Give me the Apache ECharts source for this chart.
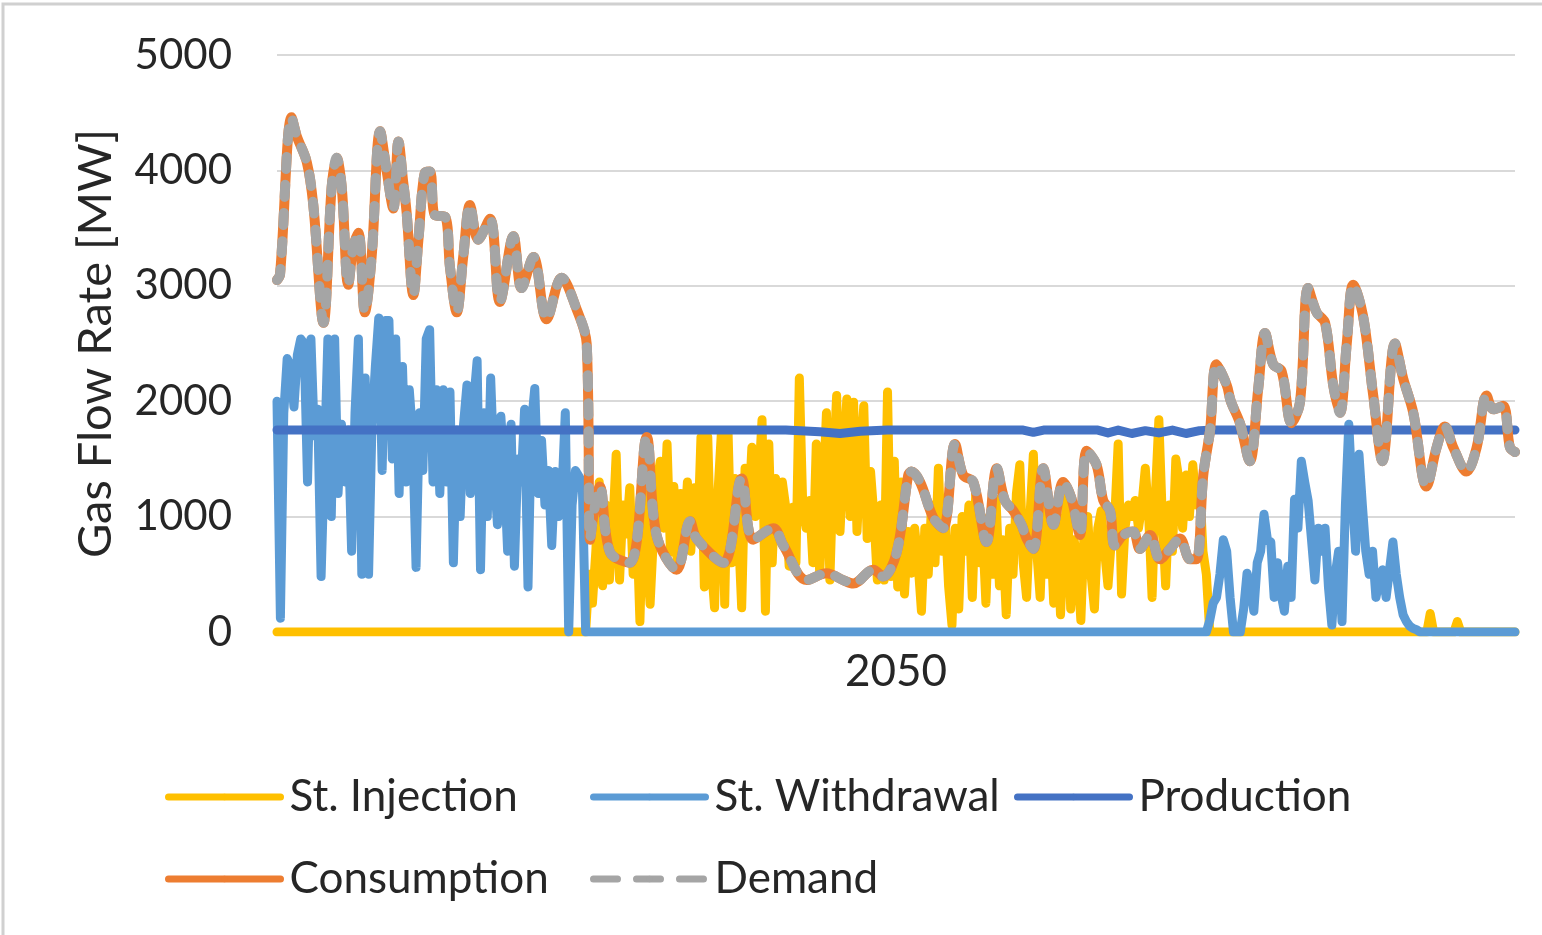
<!DOCTYPE html>
<html>
<head>
<meta charset="utf-8">
<script src="https://cdn.jsdelivr.net/npm/echarts@6/dist/echarts.min.js"></script>
<style>
  html, body { margin: 0; padding: 0; background: #ffffff; }
  #chart { width: 1542px; height: 935px; }
</style>
</head>
<body>
<div id="chart"></div>
<script>
// ---- data: gas balance over the year 2050, MW, indexed by day of year ----
const yearLabel = '2050';
const yAxisTitle = 'Gas Flow Rate [MW]';
const seriesNames = ['St. Injection', 'St. Withdrawal', 'Production', 'Consumption', 'Demand'];

// storage withdrawal, winter (days 0–91)
const withdrawalWinterStart = 0;
const withdrawalWinter = [
  2000, 120, 1900, 2370, 2300, 1950, 2400, 2540, 2500, 1300,
  2540, 1700, 1930, 480, 1500, 2540, 1000, 2540, 1200, 1800,
  1300, 1750, 700, 1900, 2540, 500, 2200, 500, 1800, 2300,
  2720, 1400, 2700, 2700, 1500, 2540, 1200, 2300, 1300, 2100,
  1700, 560, 1900, 1400, 2540, 2620, 1300, 2100, 1200, 2100,
  1300, 2080, 600, 1750, 1000, 1800, 2140, 1200, 2000, 2350,
  540, 1900, 1000, 2200, 1400, 930, 1870, 1400, 700, 1800,
  570, 1500, 1300, 1930, 390, 1800, 2110, 1200, 1660, 1100,
  1400, 750, 1390, 1000, 1200, 1900, 0, 1100, 1400, 1350,
  1300, 0
];
// storage withdrawal, autumn (days 273–337)
const withdrawalAutumnStart = 273;
const withdrawalAutumn = [
  0, 0, 100, 250, 300, 500, 800, 700, 300, 0,
  0, 0, 200, 510, 400, 180, 600, 700, 1020, 800,
  780, 300, 600, 330, 180, 570, 300, 1150, 900, 1480,
  1300, 1140, 800, 450, 900, 700, 900, 390, 60, 500,
  700, 90, 1100, 1800, 1200, 700, 1540, 1100, 700, 500,
  700, 300, 450, 540, 300, 540, 780, 500, 300, 150,
  90, 50, 30, 20, 0
];
const withdrawalEnd = [[365, 0]];

// storage injection, summer (days 91–275)
const injectionStartFlat = [[0, 0]];
const injectionSummerStart = 91;
const injectionSummer = [
  0, 500, 250, 700, 1300, 400, 1100, 450, 900, 1540,
  450, 1100, 850, 1250, 500, 1000, 90, 1200, 700, 240,
  840, 1300, 1480, 900, 1630, 690, 1260, 600, 1200, 800,
  1300, 700, 1250, 800, 1690, 390, 1690, 600, 210, 1200,
  1720, 240, 1720, 600, 1330, 900, 210, 1420, 1000, 1600,
  1000, 1300, 1840, 180, 1630, 600, 1330, 840, 1300, 1080,
  570, 1080, 600, 2200, 1100, 900, 1140, 600, 1630, 500,
  1200, 1900, 450, 1400, 2050, 870, 1500, 2020, 1000, 1990,
  870, 1500, 1960, 810, 1390, 1000, 450, 1100, 450, 2080,
  480, 1480, 390, 1300, 330, 870, 510, 900, 600, 180,
  900, 500, 1100, 600, 1420, 700, 1000, 400, 60, 900,
  200, 1000, 700, 1100, 300, 1200, 600, 900, 250, 1000,
  500, 1150, 400, 800, 150, 900, 500, 1200, 1450, 600,
  300, 1000, 1540, 700, 300, 1100, 500, 900, 250, 1000,
  150, 800, 1240, 200, 800, 600, 100, 900, 1000, 500,
  200, 900, 1050, 700, 400, 800, 1000, 1630, 330, 900,
  1100, 1000, 1140, 900, 1100, 1420, 1000, 300, 1200, 1840,
  1000, 400, 1100, 700, 1500, 1300, 900, 1360, 1000, 1450,
  1100, 1300, 700, 500, 0
];
// small late-autumn injections
const injectionLate = [[339, 0], [340, 160], [341, 0], [347, 0], [348, 90], [349, 0], [365, 0]];

// domestic production [day, MW]
const production = [
  [0, 1750], [150, 1750], [160, 1735], [166, 1720], [172, 1740], [180, 1750],
  [220, 1750], [223, 1730], [226, 1750], [242, 1750], [245, 1725], [248, 1750],
  [252, 1720], [256, 1745], [260, 1725], [264, 1750], [268, 1720], [272, 1745],
  [276, 1750], [365, 1750]
];

// gas demand [day, MW]
const demand = [
  [0, 3050], [0.9, 3100], [4.3, 4460], [5.8, 4300], [8.8, 4070], [10.7, 3700],
  [13.7, 2680], [16.1, 3850], [17.6, 4110], [19.1, 3850], [21.0, 3010], [22.5, 3340],
  [24.0, 3460], [25.9, 2770], [27.9, 3250], [30.4, 4340], [32.3, 4000], [34.3, 3670],
  [35.8, 4250], [37.2, 3900], [38.2, 3640], [40.2, 2920], [41.7, 3400], [43.6, 3980],
  [45.1, 3990], [46.6, 3610], [49.5, 3600], [51.0, 3160], [53.0, 2770], [54.9, 3250],
  [56.9, 3700], [59.3, 3400], [62.8, 3580], [65.7, 2860], [69.7, 3430], [72.1, 2980],
  [75.6, 3250], [79.5, 2710], [83.9, 3070], [88.3, 2800], [91.3, 2500], [92.3, 800],
  [93.5, 1050], [95.2, 1260], [98.2, 690], [104.1, 600], [109.0, 1690], [111.9, 840],
  [117.8, 540], [121.8, 960], [123.7, 810], [131.6, 600], [137.0, 1330], [140.4, 800],
  [146.3, 900], [149.3, 750], [156.2, 450], [162.0, 510], [166.9, 450], [169.9, 420],
  [175.8, 540], [178.7, 480], [182.7, 690], [186.1, 1360], [187.0, 1390], [189.6, 1300],
  [193.5, 990], [196.4, 900], [199.9, 1630], [202.3, 1360], [205.3, 1300], [209.2, 780],
  [212.2, 1420], [214.6, 1140], [217.1, 1050], [219.5, 930], [221.0, 810], [223.0, 720],
  [225.9, 1420], [228.9, 930], [231.8, 1300], [234.3, 1150], [236.7, 840], [238.7, 1570],
  [241.6, 1450], [243.6, 1140], [245.6, 1050], [247.0, 750], [249.5, 840], [252.4, 870],
  [254.4, 720], [257.4, 840], [260.3, 630], [263.3, 720], [266.2, 810], [269.2, 630],
  [271.1, 630], [273.1, 1360], [275.1, 1750], [277.0, 2320], [280.0, 2140], [281.2, 2000],
  [283.9, 1810], [286.8, 1480], [289.3, 2110], [291.3, 2590], [293.7, 2320], [296.2, 2260],
  [299.1, 1810], [301.6, 1990], [304.0, 2980], [306.5, 2770], [309.0, 2680], [311.4, 2140],
  [313.4, 1900], [315.4, 2500], [317.3, 3010], [320.2, 2740], [323.2, 2050], [325.9, 1480],
  [329.6, 2500], [332.0, 2200], [335.0, 1900], [338.9, 1260], [341.9, 1600], [344.3, 1780],
  [346.8, 1600], [350.7, 1390], [353.7, 1600], [356.6, 2050], [358.6, 1930], [361.5, 1960],
  [363.5, 1600], [365, 1560]
];
// consumption is fully served, so it runs on the demand values
const consumption = demand.map(p => p.slice());

// ---- assemble [day, MW] pairs ----
const daily = (start, values) => values.map((v, i) => [start + i, v]);
const withdrawalData = daily(withdrawalWinterStart, withdrawalWinter)
  .concat(daily(withdrawalAutumnStart, withdrawalAutumn), withdrawalEnd);
const injectionData = injectionStartFlat
  .concat(daily(injectionSummerStart, injectionSummer), injectionLate);

const FONT = 'Lato, "Open Sans", sans-serif';
const TEXT = '#262626';
const GRID = '#d9d9d9';
const colors = {
  'St. Injection': '#ffc000',
  'St. Withdrawal': '#5b9bd5',
  'Production': '#4472c4',
  'Consumption': '#ed7d31',
  'Demand': '#a5a5a5'
};

const chart = echarts.init(document.getElementById('chart'), null, { renderer: 'canvas' });

const lineSeries = (name, data, width, extra) => Object.assign({
  name: name,
  type: 'line',
  data: data,
  showSymbol: false,
  symbol: 'none',
  smooth: false,
  animation: false,
  color: colors[name],
  lineStyle: { color: colors[name], width: width, join: 'round', cap: 'round' },
  emphasis: { disabled: true }
}, extra || {});

const legendBase = {
  orient: 'vertical',
  top: 768,
  itemWidth: 112,
  itemHeight: 8,
  itemGap: 34,
  selectedMode: false,
  lineStyle: { width: 7, cap: 'round' },
  textStyle: { fontFamily: FONT, fontSize: 44, color: TEXT, lineHeight: 48, padding: [0, 0, 0, 4] }
};

chart.setOption({
  backgroundColor: '#ffffff',
  animation: false,
  grid: { left: 277, right: 27, top: 55, bottom: 303, containLabel: false, outerBoundsMode: 'none' },
  xAxis: {
    type: 'value',
    min: 0,
    max: 365,
    name: yearLabel,
    nameLocation: 'middle',
    nameGap: 18,
    nameTextStyle: { fontFamily: FONT, fontSize: 44, color: TEXT, verticalAlign: 'top' },
    axisLine: { show: true, lineStyle: { color: GRID, width: 2 } },
    axisTick: { show: false },
    axisLabel: { show: false },
    splitLine: { show: false }
  },
  yAxis: {
    type: 'value',
    min: 0,
    max: 5000,
    interval: 1000,
    name: yAxisTitle,
    nameLocation: 'middle',
    nameGap: 158,
    nameRotate: 90,
    nameTextStyle: { fontFamily: FONT, fontSize: 47, color: TEXT },
    axisLine: { show: false },
    axisTick: { show: false },
    axisLabel: { fontFamily: FONT, fontSize: 42, color: TEXT, margin: 45, formatter: v => String(v) },
    splitLine: { show: true, lineStyle: { color: GRID, width: 2 } }
  },
  legend: [
    Object.assign({}, legendBase, { left: 160, data: ['St. Injection', 'Consumption'] }),
    Object.assign({}, legendBase, {
      left: 585,
      data: ['St. Withdrawal', { name: 'Demand', lineStyle: { type: [24, 19], cap: 'round', width: 7 } }]
    }),
    Object.assign({}, legendBase, { left: 1009, data: ['Production'] })
  ],
  graphic: [{
    type: 'polyline',
    silent: true,
    shape: { points: [[3, 935], [3, 4], [1542, 4]] },
    style: { stroke: '#d0d0d0', lineWidth: 3, fill: null }
  }],
  series: [
    lineSeries('St. Injection', injectionData, 9, { z: 2 }),
    lineSeries('St. Withdrawal', withdrawalData, 9, { z: 3 }),
    lineSeries('Production', production, 9, { z: 4 }),
    lineSeries('Consumption', consumption, 10, { z: 5, smooth: 0.35 }),
    lineSeries('Demand', demand, 10, {
      z: 6,
      smooth: 0.35,
      lineStyle: { color: colors['Demand'], width: 10, type: [12, 16], cap: 'round', join: 'round' }
    })
  ]
});
</script>
</body>
</html>
